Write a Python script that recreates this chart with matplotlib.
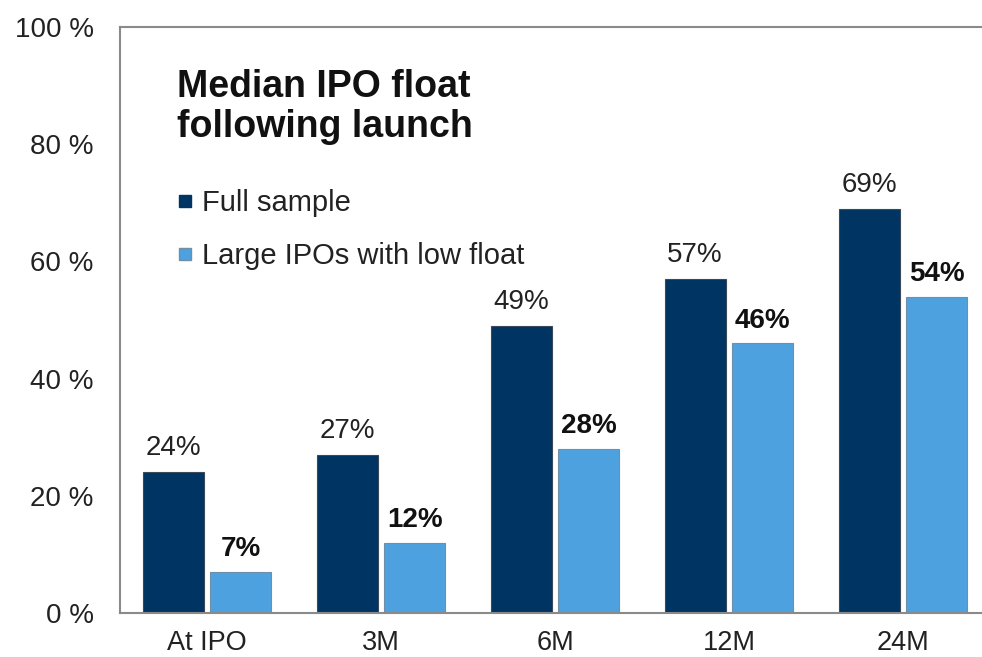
import numpy as np
import matplotlib
matplotlib.use('Agg')
import matplotlib.pyplot as plt
from matplotlib.lines import Line2D

categories = ['At IPO', '3M', '6M', '12M', '24M']
full_sample = [24, 27, 49, 57, 69]
large_low_float = [7, 12, 28, 46, 54]
yticks = [0, 20, 40, 60, 80, 100]

DARK = '#003462'
LIGHT = '#4ea1df'

plt.rcParams['font.family'] = ['Liberation Sans', 'DejaVu Sans']

fig = plt.figure(figsize=(9.82, 6.57), dpi=100, facecolor='white')
ax = fig.add_axes([120 / 982, 1 - 613 / 657, 870 / 982, (613 - 27) / 657])

x = np.arange(len(categories))
w = 0.35
off = 0.195
b1 = ax.bar(x - off, full_sample, w, color=DARK, edgecolor='#3a4a5a', linewidth=0.8,
            label='Full sample')
b2 = ax.bar(x + off, large_low_float, w, color=LIGHT, edgecolor='#6f8fa8', linewidth=0.8,
            label='Large IPOs with low float')

ax.bar_label(b1, labels=[f'{v}%' for v in full_sample], padding=8,
             fontsize=20, color='#222222')
ax.bar_label(b2, labels=[f'{v}%' for v in large_low_float], padding=7,
             fontsize=20, color='#111111', fontweight='bold')

ax.set_xlim(-0.5, 4.5)
ax.set_ylim(0, 100)
ax.set_yticks(yticks)
ax.set_yticklabels([f'{t} %' for t in yticks])
ax.set_xticks(x)
ax.set_xticklabels(categories)
ax.tick_params(axis='y', length=0, pad=19, labelsize=20, labelcolor='#222222')
ax.tick_params(axis='x', length=0, pad=12, labelsize=19.5, labelcolor='#222222')

for side in ['left', 'top', 'bottom']:
    ax.spines[side].set_color('#8a8a8a')
    ax.spines[side].set_linewidth(1.5)
ax.spines['right'].set_visible(False)

# title inside the plot area
ax.text(177 / 982, 1 - 137 / 657, 'Median IPO float\nfollowing launch',
        transform=fig.transFigure, fontsize=27, fontweight='bold',
        color='#111111', va='baseline', ha='left', linespacing=1.13)

handles = [Line2D([], [], marker='s', linestyle='none', markersize=8,
                  markerfacecolor=DARK, markeredgecolor=DARK),
           Line2D([], [], marker='s', linestyle='none', markersize=8,
                  markerfacecolor=LIGHT, markeredgecolor='#6f8fa8')]
leg = ax.legend(handles, ['Full sample', 'Large IPOs with low float'],
                loc='upper left', bbox_to_anchor=(176 / 982, 1 - 189 / 657),
                bbox_transform=fig.transFigure, frameon=False, fontsize=21,
                handlelength=0.6, handletextpad=0.3, labelspacing=0.85,
                borderaxespad=0, borderpad=0)
for t in leg.get_texts():
    t.set_color('#222222')

fig.savefig('out.png', dpi=100, facecolor='white')
